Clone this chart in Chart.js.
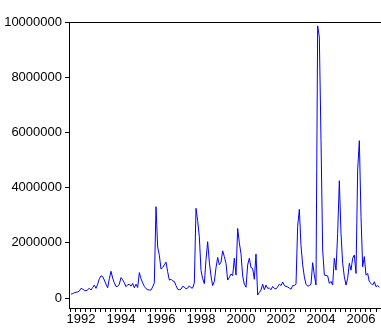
<!DOCTYPE html>
<html>
<head>
<meta charset="utf-8">
<script src="https://cdn.jsdelivr.net/npm/chart.js@4.4.0/dist/chart.umd.min.js"></script>
<style>
  html, body { margin: 0; padding: 0; background: #fff; }
</style>
</head>
<body>
<canvas id="chart" width="381" height="336"></canvas>
<script>
// monthly series, first observation 1991M07
const startYear = 1991;
const startMonth = 7;
const values = [
  140000, 160000, 190000, 210000, 220000, 250000,                                          // 1991 (Jul-Dec)
  350000, 320000, 280000, 260000, 300000, 350000, 290000, 380000, 470000, 350000, 500000, 700000,   // 1992
  800000, 780000, 650000, 500000, 370000, 700000, 970000, 720000, 550000, 420000, 420000, 500000,   // 1993
  740000, 660000, 550000, 410000, 480000, 500000, 430000, 530000, 370000, 500000, 380000, 920000,   // 1994
  700000, 550000, 420000, 340000, 300000, 290000, 290000, 400000, 550000, 3310000, 1850000, 1550000, // 1995
  1050000, 1100000, 1200000, 1300000, 950000, 650000, 680000, 620000, 600000, 450000, 320000, 300000, // 1996
  320000, 420000, 400000, 330000, 360000, 440000, 370000, 360000, 550000, 3250000, 2800000, 2220000,  // 1997
  1000000, 700000, 520000, 1400000, 2040000, 1300000, 800000, 450000, 600000, 1100000, 1470000, 1200000, // 1998
  1300000, 1710000, 1500000, 1250000, 650000, 750000, 870000, 810000, 1440000, 830000, 2520000, 2000000, // 1999
  1600000, 800000, 500000, 390000, 1200000, 1440000, 1100000, 1070000, 680000, 1590000, 110000, 200000,  // 2000
  290000, 500000, 300000, 470000, 350000, 360000, 300000, 420000, 350000, 330000, 400000, 500000,   // 2001
  450000, 580000, 450000, 420000, 400000, 360000, 320000, 450000, 450000, 500000, 2600000, 3210000, // 2002
  1900000, 1200000, 770000, 500000, 430000, 450000, 500000, 1280000, 830000, 470000, 9860000, 9450000, // 2003
  5720000, 1740000, 830000, 820000, 800000, 530000, 600000, 470000, 1440000, 1010000, 2340000, 4250000, // 2004
  2340000, 1260000, 770000, 470000, 710000, 1260000, 1010000, 1440000, 1560000, 890000, 4640000, 5700000, // 2005
  2950000, 1130000, 1500000, 830000, 890000, 590000, 530000, 470000, 590000, 410000, 450000, 390000   // 2006
];
const yTicks = [0, 2000000, 4000000, 6000000, 8000000, 10000000];
const yearLabels = [1992, 1994, 1996, 1998, 2000, 2002, 2004, 2006];

// time axis in decimal years
const points = values.map((v, i) => {
  const m = startMonth - 1 + i;
  return { x: startYear + m / 12, y: v };
});
const quarterTicks = [];
for (let q = 1991.5; q <= 2006.75; q += 0.25) quarterTicks.push(q);

const fontSpec = { family: "'Liberation Sans', Arial, sans-serif", size: 13 };

const topLine = {
  id: 'topLine',
  afterDraw(chart) {
    const a = chart.chartArea, c = chart.ctx;
    c.save();
    c.strokeStyle = '#000';
    c.lineWidth = 1;
    c.beginPath();
    c.moveTo(a.left, a.top + 0.5);
    c.lineTo(a.right, a.top + 0.5);
    c.stroke();
    c.restore();
  }
};

new Chart(document.getElementById('chart'), {
  type: 'line',
  data: {
    datasets: [{
      data: points,
      borderColor: '#0000ff',
      borderWidth: 1,
      pointRadius: 0,
      tension: 0,
      fill: false
    }]
  },
  options: {
    responsive: false,
    animation: false,
    layout: { padding: { top: 22, right: 0, bottom: 0, left: 0 } },
    plugins: { legend: { display: false }, tooltip: { enabled: false } },
    scales: {
      x: {
        type: 'linear',
        min: 1991.4,
        max: 2007.0,
        afterBuildTicks: s => { s.ticks = quarterTicks.map(v => ({ value: v })); },
        afterFit: s => { s.height = 28; },
        grid: { drawOnChartArea: false, drawTicks: true, tickLength: 4, tickColor: '#000' },
        border: { display: true, color: '#000', width: 1 },
        ticks: {
          autoSkip: false, maxRotation: 0, padding: 0, color: '#000', font: fontSpec,
          callback: v => yearLabels.includes(v) ? String(v) : ''
        }
      },
      y: {
        min: -362000,
        max: 10000000,
        afterBuildTicks: s => { s.ticks = yTicks.map(v => ({ value: v })); },
        afterFit: s => { s.width = 69; },
        grid: { drawOnChartArea: false, drawTicks: true, tickLength: 4, tickColor: '#000' },
        border: { display: true, color: '#000', width: 1 },
        ticks: { padding: 3, color: '#000', font: fontSpec, callback: v => String(v) }
      }
    }
  },
  plugins: [topLine]
});
</script>
</body>
</html>
